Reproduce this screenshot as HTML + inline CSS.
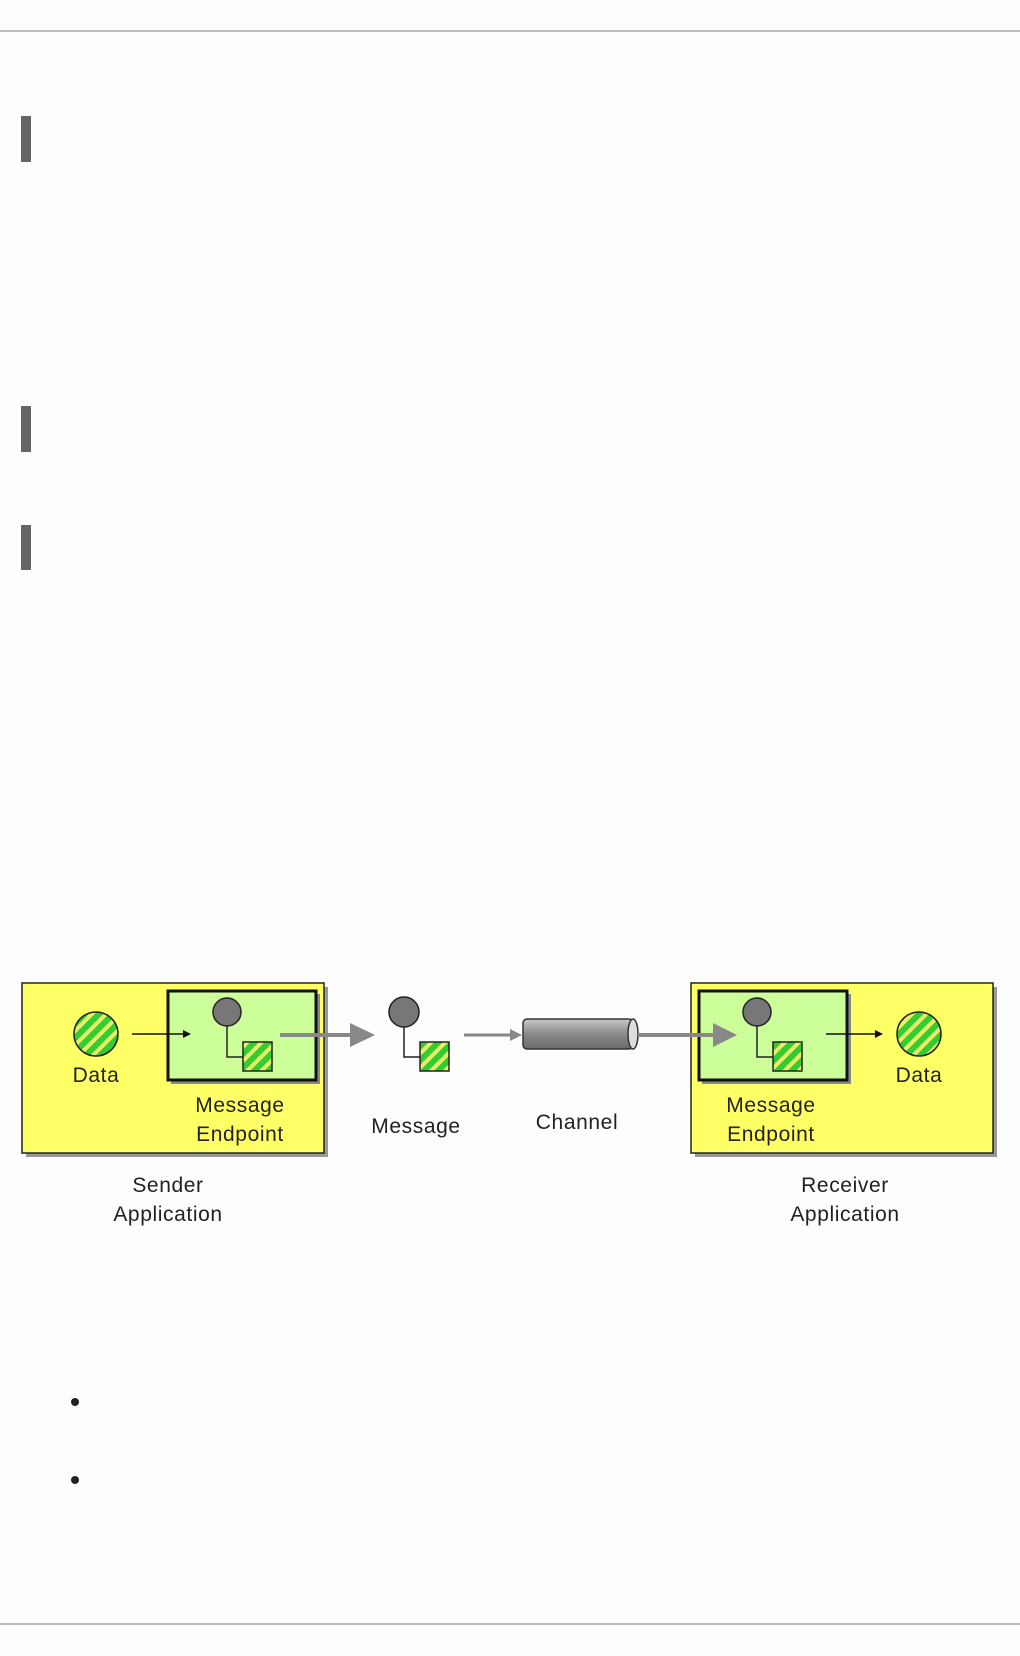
<!DOCTYPE html>
<html><head><meta charset="utf-8"><style>
html,body{margin:0;padding:0;background:#fdfdfd;}
body{width:1020px;height:1656px;position:relative;overflow:hidden;}
.hr{position:absolute;left:0;width:1020px;height:2px;background:#bdbdbd;}
.bar{position:absolute;left:21px;width:10px;background:#656565;}
.dot{position:absolute;width:8px;height:8px;border-radius:50%;background:#222;}
svg{position:absolute;left:0;top:0;}
text{font-family:"Liberation Sans",sans-serif;font-size:21px;fill:#222;letter-spacing:0.6px;}
</style></head><body>
<div class="hr" style="top:30px"></div>
<div class="bar" style="top:116px;height:46px"></div>
<div class="bar" style="top:406px;height:46px"></div>
<div class="bar" style="top:525px;height:45px"></div>
<div class="hr" style="top:1623px"></div>
<div class="dot" style="left:71px;top:1398px"></div>
<div class="dot" style="left:71px;top:1476px"></div>
<svg width="1020" height="1656" viewBox="0 0 1020 1656">
<defs>
<pattern id="st" width="10" height="10" patternUnits="userSpaceOnUse" patternTransform="rotate(45)">
<rect width="10" height="10" fill="#33cc33"/><rect width="4" height="10" fill="#eeee66"/>
</pattern>
<linearGradient id="cyl" x1="0" y1="0" x2="0" y2="1">
<stop offset="0" stop-color="#c8c8c8"/><stop offset="0.5" stop-color="#8a8a8a"/><stop offset="1" stop-color="#6a6a6a"/>
</linearGradient>
</defs>
<!-- sender -->
<rect x="26" y="987" width="302" height="170" fill="#999"/>
<rect x="22" y="983" width="302" height="170" fill="#ffff66" stroke="#222" stroke-width="1.5"/>
<rect x="171" y="994" width="149" height="90" fill="#888"/>
<rect x="168" y="991" width="148" height="89" fill="#ccff99" stroke="#111" stroke-width="3"/>
<circle cx="96" cy="1034" r="22" fill="url(#st)" stroke="#222" stroke-width="1.5"/>
<text x="96" y="1082" text-anchor="middle">Data</text>
<line x1="132" y1="1034" x2="186" y2="1034" stroke="#111" stroke-width="1.5"/>
<polygon points="183,1030 191,1034 183,1038" fill="#111"/>
<polyline points="227,1012 227,1057 243,1057" fill="none" stroke="#222" stroke-width="1.5"/>
<circle cx="227" cy="1012" r="14" fill="#777" stroke="#222" stroke-width="1.5"/>
<rect x="243" y="1042" width="29" height="29" fill="url(#st)" stroke="#222" stroke-width="1.5"/>
<text x="240" y="1112" text-anchor="middle">Message</text>
<text x="240" y="1141" text-anchor="middle">Endpoint</text>
<text x="168" y="1192" text-anchor="middle">Sender</text>
<text x="168" y="1221" text-anchor="middle">Application</text>
<!-- gray arrow -->
<line x1="280" y1="1035" x2="352" y2="1035" stroke="#888" stroke-width="4"/>
<polygon points="350,1023 375,1035 350,1047" fill="#888"/>
<!-- message -->
<polyline points="404,1012 404,1057 420,1057" fill="none" stroke="#222" stroke-width="1.5"/>
<circle cx="404" cy="1012" r="15" fill="#777" stroke="#222" stroke-width="1.5"/>
<rect x="420" y="1042" width="29" height="29" fill="url(#st)" stroke="#222" stroke-width="1.5"/>
<text x="416" y="1133" text-anchor="middle">Message</text>
<line x1="464" y1="1035" x2="512" y2="1035" stroke="#888" stroke-width="3"/>
<polygon points="510,1029 522,1035 510,1041" fill="#888"/>
<!-- channel -->
<rect x="523" y="1019" width="110" height="30" rx="4" fill="url(#cyl)" stroke="#333" stroke-width="1.5"/>
<ellipse cx="633" cy="1034" rx="5" ry="15" fill="#ddd" stroke="#333" stroke-width="1.5"/>
<text x="577" y="1129" text-anchor="middle">Channel</text>
<!-- receiver -->
<rect x="695" y="987" width="302" height="170" fill="#999"/>
<rect x="691" y="983" width="302" height="170" fill="#ffff66" stroke="#222" stroke-width="1.5"/>
<rect x="702" y="994" width="149" height="90" fill="#888"/>
<rect x="699" y="991" width="148" height="89" fill="#ccff99" stroke="#111" stroke-width="3"/>
<line x1="638" y1="1035" x2="716" y2="1035" stroke="#888" stroke-width="4"/>
<polygon points="713,1023 737,1035 713,1047" fill="#888"/>
<polyline points="757,1012 757,1057 773,1057" fill="none" stroke="#222" stroke-width="1.5"/>
<circle cx="757" cy="1012" r="14" fill="#777" stroke="#222" stroke-width="1.5"/>
<rect x="773" y="1042" width="29" height="29" fill="url(#st)" stroke="#222" stroke-width="1.5"/>
<line x1="826" y1="1034" x2="878" y2="1034" stroke="#111" stroke-width="1.5"/>
<polygon points="875,1030 883,1034 875,1038" fill="#111"/>
<circle cx="919" cy="1034" r="22" fill="url(#st)" stroke="#222" stroke-width="1.5"/>
<text x="919" y="1082" text-anchor="middle">Data</text>
<text x="771" y="1112" text-anchor="middle">Message</text>
<text x="771" y="1141" text-anchor="middle">Endpoint</text>
<text x="845" y="1192" text-anchor="middle">Receiver</text>
<text x="845" y="1221" text-anchor="middle">Application</text>
</svg>
</body></html>
